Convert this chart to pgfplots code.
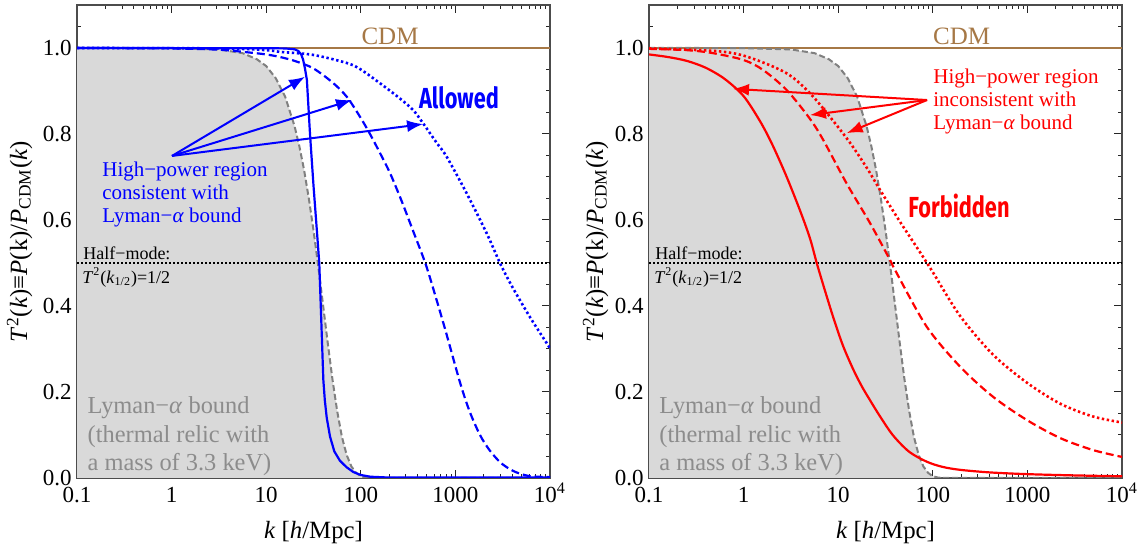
\documentclass[border=0pt]{standalone}
\usepackage{fontspec}
\setmainfont{Liberation Serif}
\newfontfamily\comicfont{Fira Sans}
\usepackage{graphicx}
\usepackage{pgfplots}
\usepackage{pgfplotstable}
\pgfplotsset{compat=1.18}
\usetikzlibrary{arrows.meta}
\definecolor{cdm}{RGB}{166,120,70}
\definecolor{lyfill}{RGB}{217,217,217}
\definecolor{lygray}{RGB}{128,128,128}
\definecolor{lytext}{RGB}{140,140,140}
\definecolor{myblue}{RGB}{0,0,255}
\definecolor{myred}{RGB}{255,0,0}

% u = log10(k), v = T^2
\pgfplotstableread{
u v
-1 1.0
-0.5 1.0
0 0.9997
0.5 0.9967
0.75 0.988
0.9 0.974
1.0 0.958
1.1 0.930
1.2 0.887
1.3 0.818
1.35 0.772
1.4 0.717
1.45 0.651
1.5 0.576
1.55 0.493
1.6 0.404
1.65 0.315
1.7 0.230
1.75 0.156
1.8 0.096
1.85 0.054
1.9 0.027
1.95 0.012
2.0 0.004
2.05 0.0012
2.1 0.0004
2.2 0
4 0
}\lyman

\pgfplotstableread{
u v
-1 1.0
1.0 0.9995
1.2 0.999
1.3 0.997
1.34 0.993
1.37 0.985
1.39 0.973
1.41 0.952
1.43 0.926
1.463 0.80
1.50 0.68
1.534 0.58
1.561 0.50
1.58 0.38
1.604 0.228
1.62 0.18
1.64 0.14
1.675 0.096
1.72 0.062
1.78 0.040
1.85 0.025
1.92 0.014
2.0 0.007
2.1 0.003
2.3 0.001
4.0 0.001
}\bluesolid

\pgfplotstableread{
u v
-1 1.0
0 0.999
0.5 0.996
0.8 0.99
1.0 0.985
1.146 0.979
1.3 0.97
1.495 0.953
1.7 0.92
1.854 0.886
2.0 0.837
2.097 0.80
2.2 0.757
2.309 0.709
2.43 0.645
2.552 0.575
2.686 0.497
2.8 0.415
2.908 0.333
3.049 0.222
3.15 0.155
3.26 0.100
3.36 0.065
3.471 0.037
3.58 0.020
3.683 0.010
3.8 0.004
4.0 0.002
}\bluedashed

\pgfplotstableread{
u v
-1 1.0
0.5 0.999
1.0 0.995
1.146 0.991
1.495 0.984
1.854 0.965
2.0 0.95
2.203 0.918
2.4 0.885
2.552 0.856
2.658 0.825
2.8 0.78
2.908 0.747
3.119 0.662
3.331 0.569
3.471 0.50
3.6 0.445
3.8 0.37
4.0 0.302
}\bluedotted

\pgfplotstableread{
u v
-1 0.985
-0.8 0.979
-0.6 0.970
-0.4 0.954
-0.2 0.928
0.0 0.888
0.173 0.83
0.3 0.777
0.45 0.703
0.6 0.620
0.702 0.557
0.773 0.50
0.85 0.443
0.95 0.372
1.05 0.308
1.16 0.252
1.25 0.213
1.336 0.181
1.44 0.144
1.58 0.099
1.75 0.061
1.935 0.038
2.1 0.026
2.288 0.019
2.6 0.013
2.993 0.009
3.5 0.006
4.0 0.004
}\redsolid

\pgfplotstableread{
u v
-1 0.998
-0.6 0.995
-0.323 0.988
0.0 0.972
0.205 0.949
0.456 0.902
0.702 0.835
0.842 0.786
1.089 0.685
1.336 0.593
1.548 0.507
1.6 0.484
1.935 0.352
2.288 0.259
2.636 0.189
2.993 0.135
3.345 0.093
3.693 0.065
4.0 0.049
}\reddashed

\pgfplotstableread{
u v
-1 0.999
-0.3 0.993
0.033 0.98
0.456 0.941
0.734 0.887
1.090 0.79
1.30 0.722
1.442 0.670
1.653 0.596
1.865 0.525
2.002 0.478
2.288 0.377
2.636 0.287
2.993 0.222
3.345 0.173
3.693 0.143
4.0 0.129
}\reddotted

\pgfplotsset{panel/.style={
  scale only axis, width=236.5pt, height=236.5pt,
  xmin=-1, xmax=4, ymin=0, ymax=1.1,
  xtick={-1,0,1,2,3,4},
  xticklabels={0.1,1,10,100,1000,10\textsuperscript{4}},
  minor xtick={-0.69897,-0.52288,-0.39794,-0.30103,-0.22185,-0.15490,-0.09691,-0.04576,
    0.30103,0.47712,0.60206,0.69897,0.77815,0.84510,0.90309,0.95424,
    1.30103,1.47712,1.60206,1.69897,1.77815,1.84510,1.90309,1.95424,
    2.30103,2.47712,2.60206,2.69897,2.77815,2.84510,2.90309,2.95424,
    3.30103,3.47712,3.60206,3.69897,3.77815,3.84510,3.90309,3.95424},
  ytick={0,0.2,0.4,0.6,0.8,1.0},
  yticklabels={0.0,0.2,0.4,0.6,0.8,1.0},
  minor ytick={0.05,0.1,0.15,0.25,0.3,0.35,0.45,0.5,0.55,0.65,0.7,0.75,0.85,0.9,0.95,1.05},
  tick align=inside, xtick pos=both, ytick pos=both,
  xticklabel pos=lower, yticklabel pos=left,
  major tick length=4pt, minor tick length=2pt,
  tick style={black!85, line width=0.5pt},
  axis line style={black!70, line width=0.7pt},
  ticklabel style={font=\fontsize{11.5}{12}\selectfont},
  xticklabel style={anchor=base, inner sep=0pt, yshift=-12.25pt},
  yticklabel style={anchor=east, inner sep=0pt, xshift=-2.5pt},
  label style={font=\fontsize{12.4}{14}\selectfont},
  xlabel={\textit{k} [\textit{h}/Mpc]},
  xlabel style={at={(axis description cs:0.5,0)}, anchor=base, inner sep=0pt, yshift=-30.5pt},
  ylabel={\textit{T}\textsuperscript{2}(\textit{k})≡\textit{P}(k)/\textit{P}\textsubscript{CDM}(\textit{k})},
  dotline/.style={line width=1.3pt, dash pattern=on 1.2pt off 1.3pt},
  dashline/.style={line width=1.1pt, dash pattern=on 4pt off 2pt},
}}

\begin{document}
\begin{tikzpicture}
\useasboundingbox (0,0) rectangle (572pt,272.5pt);

% ---------------- left panel ----------------
\begin{axis}[panel, at={(38.5pt,33.5pt)}, anchor=south west,
  ylabel style={at={(axis description cs:0,0.5)}, anchor=base, inner sep=0pt, yshift=25pt}]
\addplot[fill=lyfill, draw=none] table[x=u,y=v]{\lyman} \closedcycle;
\addplot[cdm, line width=0.7pt] coordinates {(-1,1) (4,1)};
\addplot[black, line width=1pt, dash pattern=on 1pt off 1pt] coordinates {(-1,0.5) (4,0.5)};
\addplot[lygray, line width=1pt, dash pattern=on 3pt off 1.5pt] table[x=u,y=v]{\lyman};
\addplot[myblue, dotline, smooth, tension=0.5] table[x=u,y=v]{\bluedotted};
\addplot[myblue, dashline, smooth, tension=0.5] table[x=u,y=v]{\bluedashed};
\addplot[myblue, line width=1.1pt] table[x=u,y=v]{\bluesolid};

\draw[myblue, line width=1pt, -{Latex[length=8pt,width=6pt]}] (axis cs:0.004,0.749) -- (axis cs:1.41,0.933);
\draw[myblue, line width=1pt, -{Latex[length=8pt,width=6pt]}] (axis cs:0.004,0.749) -- (axis cs:1.907,0.879);
\draw[myblue, line width=1pt, -{Latex[length=8pt,width=6pt]}] (axis cs:0.004,0.749) -- (axis cs:2.658,0.823);

\node[cdm, anchor=base, inner sep=0pt, font=\fontsize{12.5}{14}\selectfont] at (axis cs:2.309,1.008) {CDM};
\node[myblue, anchor=base, inner sep=0pt] at (axis cs:3.038,0.860) {\scalebox{0.75}[1]{\comicfont\bfseries\fontsize{14.5}{16}\selectfont Allowed}};

\node[myblue, anchor=base west, inner sep=0pt, font=\fontsize{10.5}{12}\selectfont] at (axis cs:-0.736,0.701) {High−power region};
\node[myblue, anchor=base west, inner sep=0pt, font=\fontsize{10.5}{12}\selectfont] at (axis cs:-0.736,0.647) {consistent with};
\node[myblue, anchor=base west, inner sep=0pt, font=\fontsize{10.5}{12}\selectfont] at (axis cs:-0.736,0.594) {Lyman−\textit{α} bound};

\node[black, anchor=base west, inner sep=0pt, font=\fontsize{9}{10}\selectfont] at (axis cs:-0.937,0.508) {Half−mode:};
\node[black, anchor=base west, inner sep=0pt, font=\fontsize{9}{10}\selectfont] at (axis cs:-0.947,0.453) {\textit{T}\textsuperscript{2}(\textit{k}\textsubscript{1/2})=1/2};

\node[lytext, anchor=base west, inner sep=0pt, font=\fontsize{12.2}{14}\selectfont] at (axis cs:-0.891,0.149) {Lyman−\textit{α} bound};
\node[lytext, anchor=base west, inner sep=0pt, font=\fontsize{12.2}{14}\selectfont] at (axis cs:-0.891,0.083) {(thermal relic with};
\node[lytext, anchor=base west, inner sep=0pt, font=\fontsize{12.2}{14}\selectfont] at (axis cs:-0.891,0.018) {a mass of 3.3 keV)};
\end{axis}

% ---------------- right panel ----------------
\begin{axis}[panel, at={(324.5pt,33.5pt)}, anchor=south west,
  ylabel style={at={(axis description cs:0,0.5)}, anchor=base, inner sep=0pt, yshift=23pt}]
\addplot[fill=lyfill, draw=none] table[x=u,y=v]{\lyman} \closedcycle;
\addplot[cdm, line width=0.7pt] coordinates {(-1,1) (4,1)};
\addplot[black, line width=1pt, dash pattern=on 1pt off 1pt] coordinates {(-1,0.5) (4,0.5)};
\addplot[lygray, line width=1pt, dash pattern=on 3pt off 1.5pt] table[x=u,y=v]{\lyman};
\addplot[myred, dotline, smooth, tension=0.5] table[x=u,y=v]{\reddotted};
\addplot[myred, dashline, smooth, tension=0.5] table[x=u,y=v]{\reddashed};
\addplot[myred, line width=1.1pt, smooth, tension=0.5] table[x=u,y=v]{\redsolid};

\draw[myred, line width=1pt, -{Latex[length=8pt,width=6pt]}] (axis cs:1.939,0.879) -- (axis cs:-0.112,0.905);
\draw[myred, line width=1pt, -{Latex[length=8pt,width=6pt]}] (axis cs:1.939,0.879) -- (axis cs:0.702,0.844);
\draw[myred, line width=1pt, -{Latex[length=8pt,width=6pt]}] (axis cs:1.939,0.879) -- (axis cs:1.090,0.802);

\node[cdm, anchor=base, inner sep=0pt, font=\fontsize{12.5}{14}\selectfont] at (axis cs:2.305,1.008) {CDM};
\node[myred, anchor=base, inner sep=0pt] at (axis cs:2.277,0.605) {\scalebox{0.75}[1]{\comicfont\bfseries\fontsize{14.5}{16}\selectfont Forbidden}};

\node[myred, anchor=base west, inner sep=0pt, font=\fontsize{10.5}{12}\selectfont] at (axis cs:2.002,0.918) {High−power region};
\node[myred, anchor=base west, inner sep=0pt, font=\fontsize{10.5}{12}\selectfont] at (axis cs:2.002,0.865) {inconsistent with};
\node[myred, anchor=base west, inner sep=0pt, font=\fontsize{10.5}{12}\selectfont] at (axis cs:2.002,0.811) {Lyman−\textit{α} bound};

\node[black, anchor=base west, inner sep=0pt, font=\fontsize{9}{10}\selectfont] at (axis cs:-0.937,0.508) {Half−mode:};
\node[black, anchor=base west, inner sep=0pt, font=\fontsize{9}{10}\selectfont] at (axis cs:-0.947,0.453) {\textit{T}\textsuperscript{2}(\textit{k}\textsubscript{1/2})=1/2};

\node[lytext, anchor=base west, inner sep=0pt, font=\fontsize{12.2}{14}\selectfont] at (axis cs:-0.894,0.149) {Lyman−\textit{α} bound};
\node[lytext, anchor=base west, inner sep=0pt, font=\fontsize{12.2}{14}\selectfont] at (axis cs:-0.894,0.083) {(thermal relic with};
\node[lytext, anchor=base west, inner sep=0pt, font=\fontsize{12.2}{14}\selectfont] at (axis cs:-0.894,0.018) {a mass of 3.3 keV)};
\end{axis}
\end{tikzpicture}
\end{document}
